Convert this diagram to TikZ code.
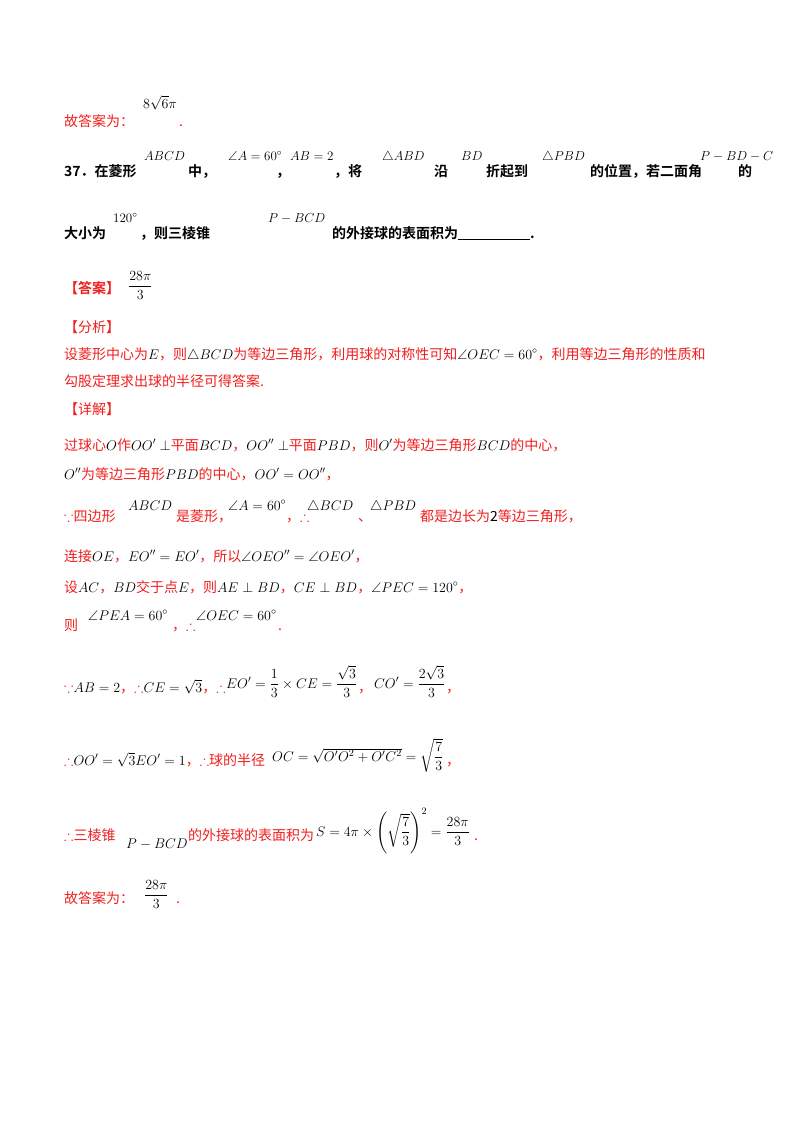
\RequirePackage{fix-cm}
\documentclass[tikz,border=0pt]{standalone}
\usepackage{amsmath,amssymb}
\usepackage{fontspec}
\setmainfont{Liberation Serif}
\newfontfamily\cjk{Noto Sans CJK SC}
\newfontfamily\cjkb{Noto Sans CJK SC Bold}
\definecolor{rd}{RGB}{240,30,30}
\tikzset{
 tx/.style={anchor=base west,inner sep=0pt,text=rd,font=\cjk\fontsize{14}{16}\selectfont},
 bt/.style={anchor=base west,inner sep=0pt,text=black,font=\cjkb\fontsize{14}{16}\selectfont},
 mt/.style={anchor=base west,inner sep=0pt,text=black,font=\fontsize{14}{17}\selectfont},
 ms/.style={anchor=base west,inner sep=0pt,text=black,font=\fontsize{13}{15}\selectfont},
}
\begin{document}
\begin{tikzpicture}[x=1pt,y=-1pt]
\useasboundingbox (0,0) rectangle (800,1132);
% first line
\node[tx] (a1) at (64,126) {故答案为：};
\node[mt] (a2) at (143,108) {$8\sqrt6\pi$};
\node[tx] (a3) at (179,126) {.};
% question
\node[bt] (q1) at (64,176) {37．在菱形};
\node[ms] (q2) at (144,160) {$ABCD$};
\node[bt] (q3) at (188,176) {中，};
\node[ms] (q4) at (228,160) {$\angle A=60^\circ$};
\node[bt] (q5) at (276,176) {，};
\node[ms] (q6) at (290,160) {$AB=2$};
\node[bt] (q7) at (334,176) {，将};
\node[ms] (q8) at (382,160) {$\triangle ABD$};
\node[bt] (q9) at (434,176) {沿};
\node[ms] (q10) at (461,160) {$BD$};
\node[bt] (q11) at (486,176) {折起到};
\node[ms] (q12) at (542,160) {$\triangle PBD$};
\node[bt] (q13) at (590,176) {的位置，若二面角};
\node[ms] (q14) at (700,160) {$P-BD-C$};
\node[bt] (q15) at (738,176) {的};
\node[bt] (q16) at (64,238) {大小为};
\node[ms] (q17) at (113,222) {$120^\circ$};
\node[bt] (q18) at (140,238) {，则三棱锥};
\node[ms] (q19) at (268,222) {$P-BCD$};
\node[bt] (q20) at (332,238) {的外接球的表面积为\rule[-2pt]{72pt}{0.8pt}.};
% answer
\node[tx,font=\cjkb\fontsize{14}{16}\selectfont] (b1) at (64,293) {【答案】};
\node[mt] (b2) at (128,290) {$\dfrac{28\pi}{3}$};
\node[tx] (b3) at (64,332) {【分析】};
\node[tx] (b4) at (64,359) {设菱形中心为\textcolor{black}{$E$}，则\textcolor{black}{$\triangle BCD$}为等边三角形，利用球的对称性可知\textcolor{black}{$\angle OEC=60^\circ$}，利用等边三角形的性质和};
\node[tx] (b5) at (64,386) {勾股定理求出球的半径可得答案.};
\node[tx] (b6) at (64,414) {【详解】};
\node[tx] (c1) at (64,450) {过球心\textcolor{black}{$O$}作\textcolor{black}{$OO'\perp$}平面\textcolor{black}{$BCD$}，\textcolor{black}{$OO''\perp$}平面\textcolor{black}{$PBD$}，则\textcolor{black}{$O'$}为等边三角形\textcolor{black}{$BCD$}的中心，};
\node[tx] (c2) at (64,479) {\textcolor{black}{$O''$}为等边三角形\textcolor{black}{$PBD$}的中心，\textcolor{black}{$OO'=OO''$}，};
\node[tx] (d1) at (64,521) {$\because$四边形};
\node[mt] (d2) at (128,510) {$ABCD$};
\node[tx] (d3) at (176,521) {是菱形，};
\node[mt] (d4) at (228,510) {$\angle A=60^\circ$};
\node[tx] (d5) at (286,521) {，$\therefore$};
\node[mt] (d6) at (307,510) {$\triangle BCD$};
\node[tx] (d7) at (358,521) {、};
\node[mt] (d8) at (370,510) {$\triangle PBD$};
\node[tx] (d9) at (420,521) {都是边长为\textcolor{black}{2}等边三角形，};
\node[tx] (e1) at (64,561) {连接\textcolor{black}{$OE$}，\textcolor{black}{$EO''=EO'$}，所以\textcolor{black}{$\angle OEO''=\angle OEO'$}，};
\node[tx] (e2) at (64,592) {设\textcolor{black}{$AC$}，\textcolor{black}{$BD$}交于点\textcolor{black}{$E$}，则\textcolor{black}{$AE\perp BD$}，\textcolor{black}{$CE\perp BD$}，\textcolor{black}{$\angle PEC=120^\circ$}，};
\node[tx] (f1) at (64,630) {则};
\node[mt] (f2) at (88,620) {$\angle PEA=60^\circ$};
\node[tx] (f3) at (172,630) {，$\therefore$};
\node[mt] (f4) at (196,620) {$\angle OEC=60^\circ$};
\node[tx] (f5) at (278,630) {.};
\node[tx] (g1) at (64,692) {$\because$\textcolor{black}{$AB=2$}，$\therefore$\textcolor{black}{$CE=\sqrt3$}，$\therefore$};
\node[mt] (g2) at (226,688) {$EO'=\dfrac13\times CE=\dfrac{\sqrt3}{3}$};
\node[tx] (g5) at (358,692) {，};
\node[mt] (g3) at (374,688) {$CO'=\dfrac{2\sqrt3}{3}$};
\node[tx] (g4) at (446,692) {，};
\node[tx] (h1) at (64,765) {$\therefore$\textcolor{black}{$OO'=\sqrt3EO'=1$}，$\therefore$球的半径};
\node[mt] (h2) at (272,761) {$OC=\sqrt{O'O^2+O'C^2}=\sqrt{\dfrac73}$};
\node[tx] (h3) at (446,765) {，};
\node[tx] (i1) at (64,840) {$\therefore$三棱锥};
\node[mt] (i2) at (126,848) {$P-BCD$};
\node[tx] (i3) at (188,840) {的外接球的表面积为};
\node[mt] (i4) at (316,836) {$S=4\pi\times\left(\sqrt{\dfrac73}\right)^2=\dfrac{28\pi}{3}$};
\node[tx] (i5) at (474,840) {.};
\node[tx] (j1) at (64,903) {故答案为：};
\node[mt] (j2) at (144,899) {$\dfrac{28\pi}{3}$};
\node[tx] (j3) at (176,903) {.};
\end{tikzpicture}
\end{document}
